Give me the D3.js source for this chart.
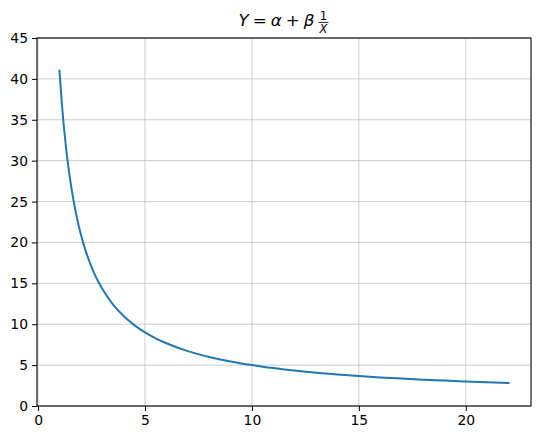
<!DOCTYPE html>
<html>
<head>
<meta charset="utf-8">
<script src="https://cdn.jsdelivr.net/npm/d3@7"></script>
<style>
  html, body { margin: 0; padding: 0; background: #fff; }
  svg { display: block; }
  text { font-family: "DejaVu Sans", sans-serif; }
</style>
</head>
<body>
<svg id="chart" width="542" height="440"></svg>
<script>
const xValues = [1, 1.1, 1.2, 1.3, 1.4, 1.5, 1.6, 1.8, 2, 2.2, 2.4, 2.6, 2.8, 3, 3.5, 4, 4.5, 5, 5.5, 6, 7, 8, 9, 10, 11, 12, 13, 14, 15, 16, 17, 18, 19, 20, 21, 22];
const yValues = [41, 37.36, 34.33, 31.77, 29.57, 27.67, 26, 23.22, 21, 19.18, 17.67, 16.38, 15.29, 14.33, 12.43, 11, 9.89, 9, 8.27, 7.67, 6.71, 6, 5.44, 5, 4.64, 4.33, 4.08, 3.86, 3.67, 3.5, 3.35, 3.22, 3.11, 3, 2.9, 2.82];
const xTicks = [0, 5, 10, 15, 20];
const yTicks = [0, 5, 10, 15, 20, 25, 30, 35, 40, 45];

(function () {
const svg = d3.select("#chart");
const mLeft = 37, mRight = 531, mTop = 38, mBottom = 406;

const x = d3.scaleLinear().domain([-0.05, 23.05]).range([mLeft, mRight]);
const y = d3.scaleLinear().domain([0, 45]).range([mBottom, mTop]);

// grid
const grid = svg.append("g");
grid.selectAll("line.gx").data(xTicks).enter().append("line")
  .attr("x1", d => x(d)).attr("x2", d => x(d))
  .attr("y1", mTop).attr("y2", mBottom)
  .attr("stroke", "#b0b0b0").attr("stroke-opacity", 0.8).attr("stroke-width", 0.8);
grid.selectAll("line.gy").data(yTicks).enter().append("line")
  .attr("x1", mLeft).attr("x2", mRight)
  .attr("y1", d => y(d)).attr("y2", d => y(d))
  .attr("stroke", "#b0b0b0").attr("stroke-opacity", 0.8).attr("stroke-width", 0.8);

// line
const data = xValues.map((v, i) => [v, yValues[i]]);
svg.append("path")
  .datum(data)
  .attr("fill", "none")
  .attr("stroke", "#1f77b4")
  .attr("stroke-width", 2)
  .attr("stroke-linecap", "square")
  .attr("d", d3.line().x(d => x(d[0])).y(d => y(d[1])).curve(d3.curveMonotoneX));

// axes
const xAxis = d3.axisBottom(x).tickValues(xTicks).tickSize(5).tickPadding(4).tickFormat(d3.format("d"));
const yAxis = d3.axisLeft(y).tickValues(yTicks).tickSize(5).tickPadding(4).tickFormat(d3.format("d"));
const gx = svg.append("g").attr("transform", `translate(0,${mBottom})`).call(xAxis);
const gy = svg.append("g").attr("transform", `translate(${mLeft},0)`).call(yAxis);
[gx, gy].forEach(g => {
  g.select(".domain").remove();
  g.selectAll("line").attr("stroke", "#000").attr("stroke-width", 1);
  g.selectAll("text").attr("fill", "#000").style("font-size", "13.9px").style("font-family", "DejaVu Sans, sans-serif");
});

// frame
svg.append("rect")
  .attr("x", mLeft).attr("y", mTop)
  .attr("width", mRight - mLeft).attr("height", mBottom - mTop)
  .attr("fill", "none").attr("stroke", "#000").attr("stroke-width", 1.1);

// title: Y = α + β 1/X
const tg = svg.append("g");
const main = tg.append("text").attr("x", 0).attr("y", 26).style("font-size", "16.7px")
  .style("word-spacing", "-1.3px").attr("fill", "#000");
main.append("tspan").style("font-style", "italic").text("Y");
main.append("tspan").text(" = ");
main.append("tspan").style("font-style", "italic").text("α");
main.append("tspan").text(" + ");
main.append("tspan").style("font-style", "italic").text("β");
const mainW = main.node().getComputedTextLength();
const fx = mainW + 9;
tg.append("text").attr("x", fx).attr("y", 20).attr("text-anchor", "middle")
  .style("font-size", "11.5px").attr("fill", "#000").text("1");
tg.append("text").attr("x", fx).attr("y", 33).attr("text-anchor", "middle")
  .style("font-size", "11.5px").style("font-style", "italic").attr("fill", "#000").text("X");
tg.append("line").attr("x1", fx - 5).attr("x2", fx + 5).attr("y1", 22.5).attr("y2", 22.5)
  .attr("stroke", "#000").attr("stroke-width", 0.8);
const totalW = fx + 6;
tg.attr("transform", `translate(${(mLeft + mRight) / 2 - totalW / 2},0)`);
})();
</script>
</body>
</html>
